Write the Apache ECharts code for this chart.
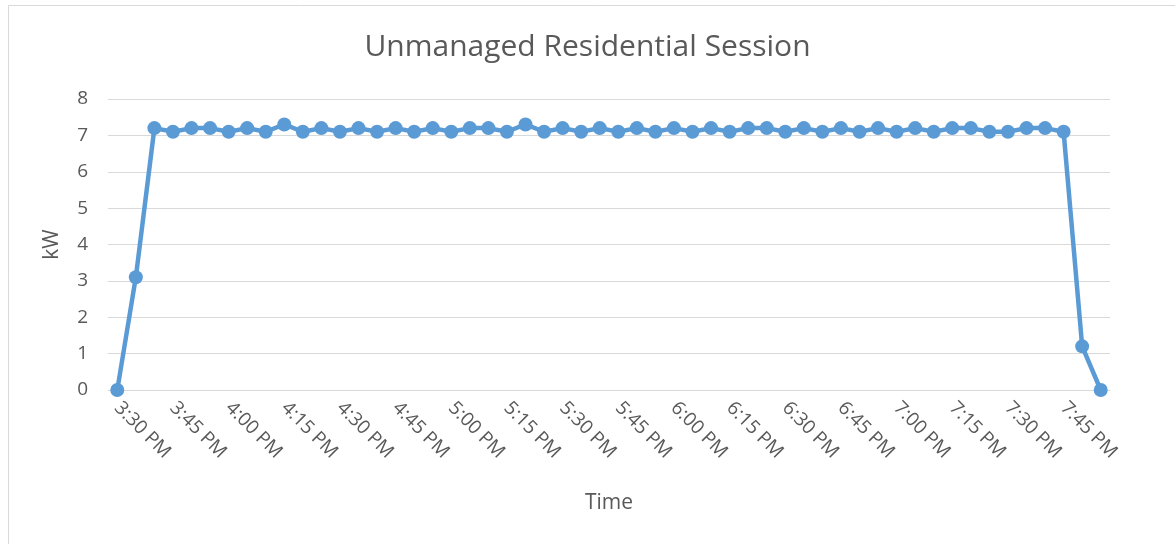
<!DOCTYPE html>
<html>
<head>
<meta charset="utf-8">
<script src="https://cdn.jsdelivr.net/npm/echarts@6/dist/echarts.min.js"></script>
<style>html,body{margin:0;padding:0;background:#fff;}#c{width:1175px;height:544px;}</style>
</head>
<body>
<div id="c"></div>
<script>
const categories = ['3:30 PM','3:35 PM','3:40 PM','3:45 PM','3:50 PM','3:55 PM','4:00 PM','4:05 PM','4:10 PM','4:15 PM','4:20 PM','4:25 PM','4:30 PM','4:35 PM','4:40 PM','4:45 PM','4:50 PM','4:55 PM','5:00 PM','5:05 PM','5:10 PM','5:15 PM','5:20 PM','5:25 PM','5:30 PM','5:35 PM','5:40 PM','5:45 PM','5:50 PM','5:55 PM','6:00 PM','6:05 PM','6:10 PM','6:15 PM','6:20 PM','6:25 PM','6:30 PM','6:35 PM','6:40 PM','6:45 PM','6:50 PM','6:55 PM','7:00 PM','7:05 PM','7:10 PM','7:15 PM','7:20 PM','7:25 PM','7:30 PM','7:35 PM','7:40 PM','7:45 PM','7:50 PM','7:55 PM'];
const kW = [0,3.1,7.2,7.1,7.2,7.2,7.1,7.2,7.1,7.3,7.1,7.2,7.1,7.2,7.1,7.2,7.1,7.2,7.1,7.2,7.2,7.1,7.3,7.1,7.2,7.1,7.2,7.1,7.2,7.1,7.2,7.1,7.2,7.1,7.2,7.2,7.1,7.2,7.1,7.2,7.1,7.2,7.1,7.2,7.1,7.2,7.2,7.1,7.1,7.2,7.2,7.1,1.2,0];
const yTicks = [0,1,2,3,4,5,6,7,8];

const chart = echarts.init(document.getElementById('c'), null, {renderer:'canvas'});
const txt = '#595959';
const font = "'Open Sans', 'Noto Sans', sans-serif";
chart.setOption({
  animation:false,
  backgroundColor:'#fff',
  graphic:[{type:'rect', shape:{x:8.5,y:5.5,width:1175,height:600}, style:{fill:'none',stroke:'#d9d9d9',lineWidth:1}, silent:true}],
  title:{text:'Unmanaged Residential Session', left:'center', top:27, textStyle:{color:txt, fontSize:30, fontWeight:'normal', fontFamily:font}},
  grid:{left:108, right:65, top:99, bottom:154},
  xAxis:{type:'category', data:categories, boundaryGap:true,
    name:'Time', nameLocation:'middle', nameGap:103, nameTextStyle:{color:txt,fontSize:21,fontFamily:font},
    axisLine:{lineStyle:{color:'#d9d9d9',width:1}}, axisTick:{show:false},
    axisLabel:{interval:2, rotate:-45, color:txt, fontSize:19, fontFamily:font, margin:15}},
  yAxis:{type:'value', min:yTicks[0], max:yTicks[yTicks.length-1], interval:1,
    name:'kW', nameLocation:'middle', nameGap:45, nameTextStyle:{color:txt,fontSize:21,fontFamily:font},
    axisLine:{show:false}, axisTick:{show:false},
    axisLabel:{color:txt, fontSize:19, fontFamily:font, margin:20},
    splitLine:{lineStyle:{color:'#d9d9d9',width:1}}},
  series:[{type:'line', data:kW, symbol:'circle', symbolSize:14, showAllSymbol:true,
    lineStyle:{color:'#5B9BD5', width:4.5}, itemStyle:{color:'#5B9BD5'}}]
});
</script>
</body>
</html>
